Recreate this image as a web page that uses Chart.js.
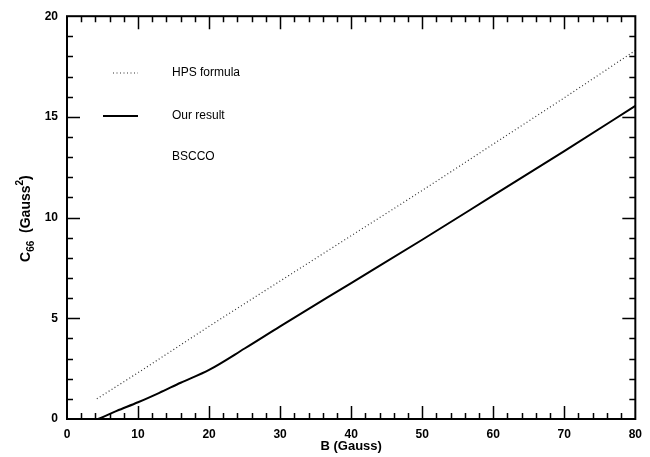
<!DOCTYPE html>
<html>
<head>
<meta charset="utf-8">
<script src="https://cdn.jsdelivr.net/npm/chart.js@4"></script>
<style>
  html, body { margin: 0; padding: 0; background: #fff; }
  #wrap { width: 650px; height: 457px; }
</style>
</head>
<body>
<div id="wrap"><canvas id="c66Chart" width="650" height="457"></canvas></div>
<script>
// HPS formula (dotted)
const hpsB = [4.2, 10, 20, 30, 40, 50, 60, 70, 80];
const hpsC = [1.0, 2.3, 4.6, 6.85, 9.1, 11.35, 13.65, 15.95, 18.3];

// our result (solid)
const oursB = [4.4, 7, 10, 13, 16, 20, 25, 30, 40, 50, 60, 70, 80];
const oursC = [0, 0.4, 0.83, 1.3, 1.8, 2.44, 3.5, 4.6, 6.75, 8.9, 11.1, 13.3, 15.55];

const legendLabels = ['HPS formula', 'Our result'];
const noteText = 'BSCCO';

const font = '"Liberation Sans", Arial, sans-serif';

const toPoints = (xs, ys) => xs.map((x, i) => ({ x: x, y: ys[i] }));

// frame + inward ticks on all four sides, legend, note, y title
const frameTicks = {
  id: 'frameTicks',
  afterDraw(chart) {
    const { ctx, chartArea: a, scales } = chart;
    const xs = scales.x, ys = scales.y;
    ctx.save();
    ctx.strokeStyle = '#000';
    ctx.lineWidth = 2;
    ctx.strokeRect(a.left, a.top, a.right - a.left, a.bottom - a.top);

    ctx.lineWidth = 1.5;
    ctx.beginPath();
    for (let v = 2; v < 80; v += 2) {
      const px = Math.round(xs.getPixelForValue(v)) + 0.5;
      const len = v % 10 === 0 ? 13 : 6;
      ctx.moveTo(px, a.bottom); ctx.lineTo(px, a.bottom - len);
      ctx.moveTo(px, a.top); ctx.lineTo(px, a.top + len);
    }
    for (let v = 1; v < 20; v += 1) {
      const py = Math.round(ys.getPixelForValue(v)) + 0.5;
      const len = v % 5 === 0 ? 13 : 6;
      ctx.moveTo(a.left, py); ctx.lineTo(a.left + len, py);
      ctx.moveTo(a.right, py); ctx.lineTo(a.right - len, py);
    }
    ctx.stroke();

    // legend
    const sets = chart.data.datasets;
    const rows = [73, 116];
    ctx.font = '12px ' + font;
    ctx.fillStyle = '#000';
    ctx.textBaseline = 'middle';
    sets.forEach((ds, i) => {
      ctx.beginPath();
      ctx.strokeStyle = ds.borderColor;
      ctx.lineWidth = ds.borderWidth;
      ctx.setLineDash(ds.borderDash || []);
      ctx.moveTo(i === 0 ? 113 : 103, rows[i]);
      ctx.lineTo(138, rows[i]);
      ctx.stroke();
      ctx.setLineDash([]);
      ctx.fillText(legendLabels[i], 172, rows[i]);
    });
    ctx.fillText(noteText, 172, 157);

    // y title with sub/superscripts, rotated
    const parts = [
      { t: 'C', size: 14, dy: 0 },
      { t: '66', size: 10, dy: 4 },
      { t: '  (Gauss', size: 14, dy: 0 },
      { t: '2', size: 10, dy: -7 },
      { t: ')', size: 14, dy: 0 }
    ];
    let total = 0;
    parts.forEach(p => {
      ctx.font = 'bold ' + p.size + 'px ' + font;
      p.w = ctx.measureText(p.t).width;
      total += p.w;
    });
    ctx.translate(30, (a.top + a.bottom) / 2 + 1);
    ctx.rotate(-Math.PI / 2);
    ctx.textBaseline = 'alphabetic';
    let cx = -total / 2;
    parts.forEach(p => {
      ctx.font = 'bold ' + p.size + 'px ' + font;
      ctx.fillText(p.t, cx, p.dy);
      cx += p.w;
    });
    ctx.restore();
  }
};

new Chart(document.getElementById('c66Chart'), {
  type: 'line',
  data: {
    datasets: [
      {
        label: legendLabels[0],
        data: toPoints(hpsB, hpsC),
        borderColor: '#333',
        borderWidth: 1.2,
        borderDash: [1, 2.5],
        pointRadius: 0,
        cubicInterpolationMode: 'monotone'
      },
      {
        label: legendLabels[1],
        data: toPoints(oursB, oursC),
        borderColor: '#000',
        borderWidth: 2,
        pointRadius: 0,
        cubicInterpolationMode: 'monotone'
      }
    ]
  },
  options: {
    responsive: false,
    animation: false,
    layout: { padding: { left: 0, right: 10, top: 13, bottom: 0 } },
    plugins: {
      legend: { display: false },
      tooltip: { enabled: false }
    },
    scales: {
      x: {
        type: 'linear',
        min: 0,
        max: 80,
        grid: { display: false, drawTicks: false },
        border: { display: false },
        ticks: {
          stepSize: 10,
          padding: 8,
          color: '#000',
          maxRotation: 0,
          font: { family: font, size: 12, weight: 'bold' }
        },
        title: {
          display: true,
          text: 'B (Gauss)',
          color: '#000',
          padding: { top: 0, bottom: 3 },
          font: { family: font, size: 13, weight: 'bold' }
        },
        afterFit(scale) { scale.height = 38; }
      },
      y: {
        min: 0,
        max: 20,
        grid: { display: false, drawTicks: false },
        border: { display: false },
        ticks: {
          stepSize: 5,
          padding: 9,
          color: '#000',
          font: { family: font, size: 12, weight: 'bold' }
        },
        afterFit(scale) { scale.width = 67; }
      }
    }
  },
  plugins: [frameTicks]
});
</script>
</body>
</html>
